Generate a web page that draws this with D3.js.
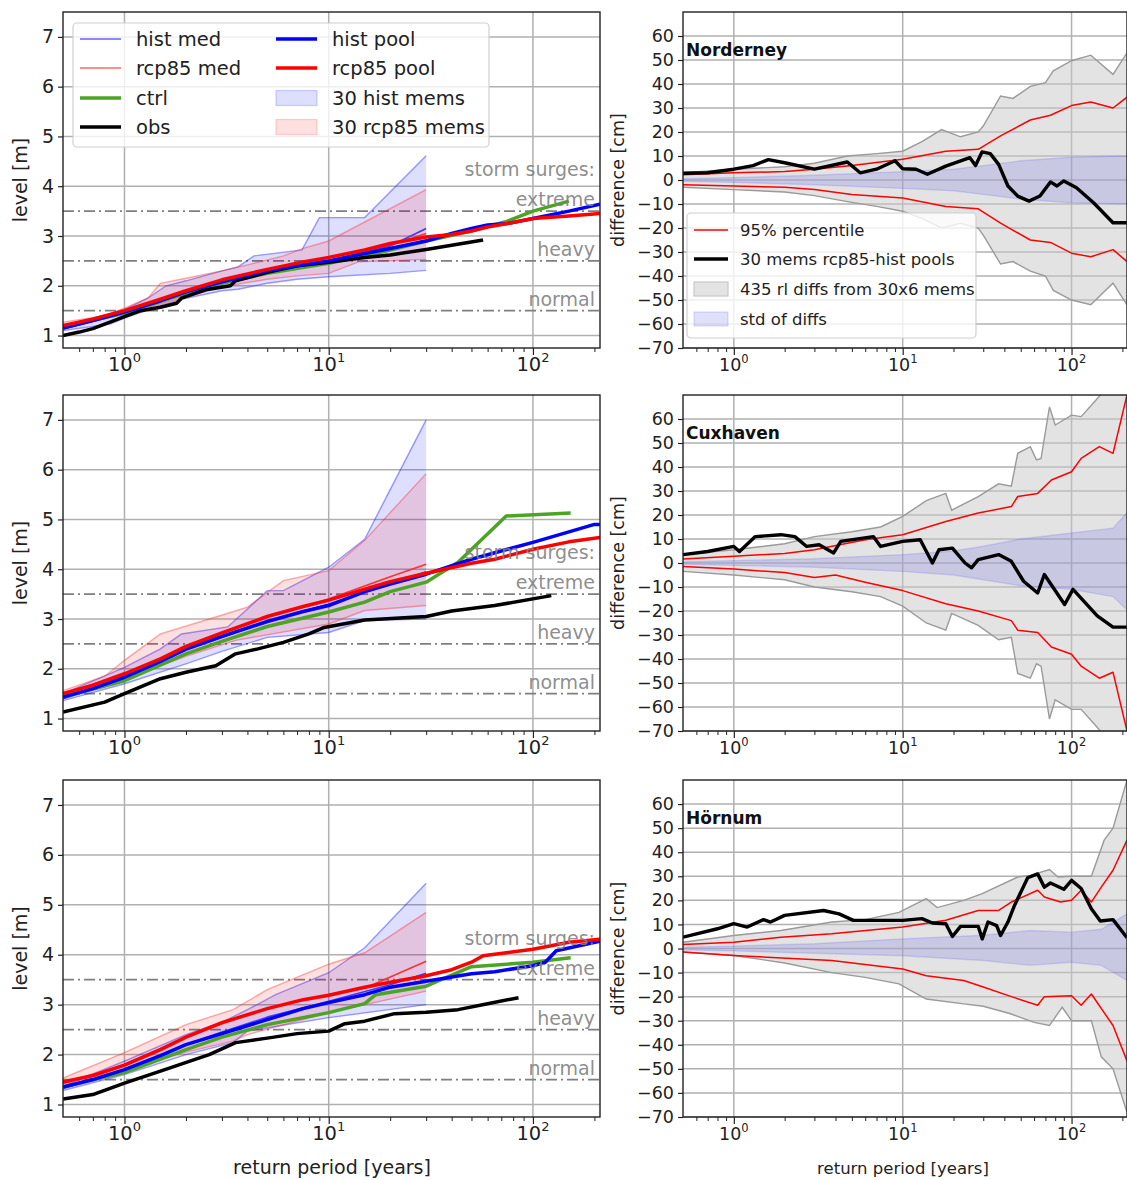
<!DOCTYPE html>
<html>
<head>
<meta charset="utf-8">
<title>Return levels and rcp85-hist differences</title>
<script src="https://cdn.jsdelivr.net/npm/d3@7"></script>
<style>
  body { margin: 0; background: #fff; }
  text { font-family: "DejaVu Sans", sans-serif; }
</style>
</head>
<body>
<script>
// ---------- data ----------
// left panels: [return period (years), level (m)]
var norObs      = [[0.5,1.0],[0.6,1.07],[0.7,1.14],[0.8,1.23],[1,1.38],[1.2,1.5],[1.5,1.57],[1.8,1.65],[1.9,1.75],[2.5,1.92],[3.3,2.0],[3.5,2.1],[5,2.27],[7,2.4],[10,2.47],[15,2.57],[20,2.62],[30,2.73],[45,2.85],[57,2.92]];
var norHistPool = [[0.5,1.15],[0.7,1.3],[1,1.47],[1.5,1.7],[2,1.88],[3,2.08],[5,2.3],[7.5,2.42],[10,2.5],[15,2.65],[20,2.75],[30,2.9],[40,3.05],[50,3.15],[60,3.22],[75,3.25],[100,3.35],[150,3.5],[213,3.64]];
var norRcpPool  = [[0.5,1.2],[0.7,1.33],[1,1.5],[1.5,1.73],[2,1.9],[3,2.12],[5,2.33],[7.5,2.48],[10,2.57],[15,2.72],[20,2.85],[30,2.98],[40,3.03],[50,3.1],[60,3.18],[75,3.25],[100,3.35],[150,3.4],[213,3.45]];
var norCtrl     = [[0.5,1.17],[1,1.45],[2,1.85],[3,2.05],[5,2.25],[10,2.45],[15,2.6],[20,2.72],[30,2.9],[50,3.1],[75,3.3],[100,3.5],[150,3.7]];
var norHistMed  = [[0.5,1.13],[1,1.45],[2,1.87],[3,2.05],[5,2.3],[10,2.5],[20,2.8],[30,3.15]];
var norRcpMed   = [[0.5,1.2],[1,1.5],[2,1.9],[3,2.1],[5,2.33],[10,2.57],[20,2.82],[30,3.05]];
var norHistHi   = [[0.5,1.2],[0.7,1.35],[1,1.52],[1.3,1.75],[1.6,2.0],[2,2.1],[3,2.3],[3.6,2.38],[4.3,2.6],[7.4,2.72],[9,3.37],[15,3.37],[30,4.61]];
var norHistLo   = [[0.5,1.1],[0.85,1.23],[1,1.35],[1.5,1.6],[2,1.75],[3,1.9],[3.6,1.93],[5,2.05],[7,2.13],[10,2.18],[20,2.25],[30,2.31]];
var norRcpHi    = [[0.5,1.27],[0.8,1.4],[1,1.55],[1.3,1.75],[1.5,2.05],[2,2.15],[3,2.3],[4,2.42],[6,2.6],[7.5,2.75],[10,2.9],[30,3.93]];
var norRcpLo    = [[0.5,1.17],[1,1.42],[2,1.78],[3,1.98],[5,2.13],[7,2.2],[10,2.25],[14,2.48],[30,2.53]];

var cuxObs      = [[0.5,1.13],[0.8,1.33],[1,1.5],[1.5,1.8],[2,1.93],[2.8,2.06],[3.5,2.3],[4.5,2.4],[6,2.53],[8,2.7],[9.5,2.83],[15,2.98],[30,3.05],[40,3.16],[65,3.27],[123,3.47]];
var cuxHistPool = [[0.5,1.43],[0.7,1.6],[1,1.83],[1.5,2.15],[2,2.4],[3,2.65],[5,2.95],[7.5,3.15],[10,3.27],[15,3.55],[20,3.7],[30,3.9],[50,4.2],[75,4.4],[100,4.54],[150,4.75],[200,4.9],[213,4.9]];
var cuxRcpPool  = [[0.5,1.5],[0.7,1.67],[1,1.9],[1.5,2.2],[2,2.45],[3,2.72],[5,3.05],[7.5,3.25],[10,3.38],[15,3.6],[20,3.75],[30,3.92],[50,4.12],[65,4.2],[100,4.4],[150,4.55],[213,4.64]];
var cuxCtrl     = [[0.5,1.43],[1,1.76],[2,2.3],[3,2.55],[5,2.85],[10,3.14],[15,3.34],[20,3.55],[30,3.74],[43,4.14],[74,5.07],[153,5.13]];
var cuxHistMed  = [[0.5,1.4],[1,1.8],[2,2.37],[3,2.63],[5,2.95],[10,3.3],[20,3.7],[30,3.95]];
var cuxRcpMed   = [[0.5,1.5],[1,1.88],[2,2.45],[3,2.72],[5,3.05],[10,3.4],[20,3.85],[30,4.1]];
var cuxHistHi   = [[0.5,1.5],[1,2.03],[1.5,2.4],[1.9,2.7],[3.2,2.84],[4,3.2],[5,3.57],[6,3.57],[10,4.04],[15,4.6],[20,5.6],[30,7.0]];
var cuxHistLo   = [[0.5,1.36],[1,1.7],[2,2.1],[3,2.35],[5,2.63],[10,2.73],[15,2.97],[30,3.0]];
var cuxRcpHi    = [[0.5,1.56],[0.8,1.85],[1,2.17],[1.5,2.7],[2.8,3.04],[4,3.24],[6,3.77],[10,3.97],[15,4.58],[30,5.92]];
var cuxRcpLo    = [[0.5,1.4],[1,1.8],[2,2.25],[3.5,2.57],[10,2.9],[15,3.17],[30,3.27]];

var hoeObs      = [[0.5,1.11],[0.7,1.2],[1,1.43],[1.5,1.67],[2.2,1.9],[2.6,2.0],[3.5,2.24],[5,2.33],[7,2.42],[10,2.47],[12,2.62],[15,2.67],[21,2.82],[30,2.85],[43,2.9],[60,3.02],[85,3.14]];
var hoeHistPool = [[0.5,1.35],[0.7,1.5],[1,1.7],[1.5,1.98],[2,2.2],[3,2.42],[5,2.7],[7.5,2.92],[10,3.04],[15,3.2],[20,3.35],[30,3.47],[50,3.62],[65,3.66],[100,3.78],[115,3.85],[130,4.08],[213,4.27]];
var hoeRcpPool  = [[0.5,1.45],[0.7,1.58],[1,1.79],[1.5,2.1],[2,2.35],[3,2.64],[5,2.92],[7.5,3.1],[10,3.19],[15,3.35],[20,3.45],[30,3.58],[40,3.7],[50,3.85],[57,3.98],[100,4.11],[150,4.25],[213,4.31]];
var hoeCtrl     = [[0.5,1.35],[1,1.64],[2,2.1],[3,2.35],[5,2.6],[10,2.84],[15,3.02],[17,3.2],[30,3.37],[50,3.76],[100,3.85],[153,3.94]];
var hoeHistMed  = [[0.5,1.32],[1,1.68],[2,2.2],[3,2.45],[5,2.75],[10,3.07],[20,3.4],[30,3.63]];
var hoeRcpMed   = [[0.5,1.42],[1,1.8],[2,2.35],[3,2.62],[5,2.93],[10,3.2],[15,3.33],[30,3.87]];
var hoeHistHi   = [[0.5,1.37],[1,1.87],[2,2.4],[3,2.65],[4,2.9],[5.5,3.2],[10,3.64],[15,4.14],[30,5.43]];
var hoeHistLo   = [[0.5,1.28],[1,1.6],[2,2.0],[3.4,2.24],[4,2.47],[10,2.74],[30,3.0]];
var hoeRcpHi    = [[0.5,1.53],[1,2.04],[2,2.6],[3.4,2.9],[5,3.3],[10,3.81],[15,4.04],[30,4.85]];
var hoeRcpLo    = [[0.5,1.41],[1,1.7],[2,2.05],[3.4,2.27],[4,2.4],[10,2.84],[30,3.27]];

// right panels: [return period (years), difference (cm)]
var norGrayHi = [[0.5,3],[1,4.5],[2,5.5],[3,7],[4.7,10],[7,11],[10,12],[13,16],[17,21],[22,18],[28,20],[30,22.5],[38,35],[45,34],[57,39],[70,40.6],[78,45.5],[100,49.7],[130,52],[176,44],[213,53]];
var norGrayLo = [[0.5,-3],[1,-4],[2,-5],[3,-6.5],[4.7,-9],[7,-11],[10,-13],[13,-16],[17,-20],[22,-18],[28,-20],[30,-23],[38,-35],[45,-34],[57,-38],[70,-40],[78,-46],[100,-50],[130,-52],[176,-43],[213,-52]];
var norRedHi  = [[0.5,2.2],[1,3],[2,3.5],[3,4.5],[5,6],[10,8.6],[18,12],[28,12.8],[38,18.4],[57,25],[75,27],[100,31],[130,32.5],[176,30],[213,34.5]];
var norRedLo  = [[0.5,-2],[1,-2.5],[2,-3],[3,-4],[5,-6],[10,-7.5],[18,-11],[28,-12],[38,-18],[57,-25],[75,-26],[100,-30.5],[130,-32],[176,-29],[213,-34]];
var norStdHi  = [[0.5,0.5],[1,1],[3,2],[10,3.5],[20,4.5],[30,6],[50,8],[100,9.5],[213,10]];
var norStdLo  = [[0.5,-0.5],[1,-1],[3,-2],[10,-3.5],[20,-4.5],[30,-6],[50,-8],[100,-9.5],[213,-10]];
var norPools  = [[0.5,2.8],[0.7,3],[1,4.5],[1.3,6],[1.6,8.5],[2,7.2],[3,4.5],[4.7,7.5],[5.6,3],[7,4.5],[9,8],[10,4.7],[12,4.5],[14,2.4],[18,5.8],[25,9.3],[27,6],[29.5,11.7],[33,11],[37,6.5],[42,-2.5],[48,-6.7],[56,-8.8],[65,-6.7],[75,-0.8],[82,-2.5],[90,-0.4],[107,-3.2],[135,-9.5],[176,-17.8],[213,-17.8]];

var cuxGrayHi = [[0.5,3.5],[1,5.5],[2,8],[3,11],[5,13],[7.4,15],[10,19.4],[13.8,26],[18,29],[19.5,22],[28,27.7],[37,33],[44,32],[48,45.7],[57,48.5],[62,43],[66,43.6],[74,65],[80,57.5],[100,61.6],[114,61],[140,68],[170,75],[213,80]];
var cuxGrayLo = [[0.5,-3.5],[1,-5],[2,-7],[3,-10],[5,-12],[7.4,-14],[10,-18],[13.8,-25],[18,-28],[19.5,-21],[28,-26],[37,-32],[44,-31],[48,-46],[57,-48],[62,-42],[66,-43],[74,-65],[80,-57],[100,-61],[114,-61],[140,-68],[170,-75],[213,-80]];
var cuxRedHi  = [[0.5,1.7],[1,2.8],[2,4],[3,5.5],[6,9.7],[10,11.8],[18,17.3],[28,20.8],[44,23.5],[48,27.7],[63,29],[76,34.6],[100,38],[114,43.6],[146,48.5],[176,45.7],[213,70]];
var cuxRedLo  = [[0.5,-1.5],[1,-2.5],[2,-4],[3,-6],[4,-5],[6,-8],[10,-11.5],[18,-17],[28,-20],[44,-24],[48,-28],[63,-29],[76,-35],[100,-38],[114,-43],[146,-48],[176,-45.5],[213,-70]];
var cuxStdHi  = [[0.5,0.5],[1,1],[3,1.8],[10,3.5],[20,5],[30,7],[50,10],[100,12.5],[176,14.5],[213,21]];
var cuxStdLo  = [[0.5,-0.5],[1,-1],[3,-1.8],[10,-3.5],[20,-5],[30,-7],[50,-9.5],[100,-11],[176,-14],[213,-19.5]];
var cuxPools  = [[0.5,3.5],[0.7,4.8],[1,6.9],[1.08,4.8],[1.34,11],[1.9,11.8],[2.3,11],[2.7,6.9],[3.2,7.6],[3.9,4.2],[4.3,9],[6.7,11],[7.4,6.9],[10,9],[12.7,9.7],[15,0],[16.4,5.5],[19.7,6.2],[23.4,0],[25.6,-2],[28,1.4],[37,3.5],[44,0.7],[52,-7.6],[63,-12.5],[69,-4.8],[91,-17.3],[102,-11],[142,-22],[176,-26.7],[213,-26.7]];

var hoeGrayHi = [[0.5,2.6],[1,5.4],[1.9,7.5],[3.8,11],[6,12],[9.5,15],[13.8,20.7],[16,17],[23,20],[29.6,22.8],[48,29.7],[57,30.4],[74,32.8],[83,29.7],[100,30],[131,30],[156,45],[176,50],[213,70]];
var hoeGrayLo = [[0.5,-1.5],[1,-2.9],[2,-6],[3.8,-10],[6,-12],[9.5,-14.7],[13.8,-21],[23,-23],[30,-24],[43,-27],[60,-30.7],[74,-32],[88,-24.4],[100,-30],[131,-30],[150,-45],[176,-50],[213,-68]];
var hoeRedHi  = [[0.5,1.7],[1,2.6],[1.9,4.7],[3.8,6.1],[10,8.9],[18,11.7],[28,15.8],[37,15.8],[44,19.3],[63,24.2],[69,21.4],[86,19.3],[100,20],[114,24.2],[131,19.3],[150,25.5],[176,32.5],[213,45]];
var hoeRedLo  = [[0.5,-1.5],[1,-2.9],[3.8,-5],[10,-8.5],[13.8,-11.3],[23,-13.3],[30,-16],[44,-20],[63,-23.6],[69,-20],[100,-19.6],[114,-23.6],[131,-18.9],[176,-32],[213,-46.7]];
var hoeStdHi  = [[0.5,0.5],[1,1],[3,2],[10,4],[30,5.5],[57,7.5],[100,6.8],[150,8],[213,14.4]];
var hoeStdLo  = [[0.5,-0.5],[1,-1],[3,-2],[10,-3],[30,-5],[57,-7],[100,-5.7],[150,-7],[213,-13.3]];
var hoePools  = [[0.5,4.7],[0.8,8.2],[1,10.3],[1.2,8.9],[1.5,12],[1.65,11],[2,13.75],[3.4,15.8],[4.2,14.4],[5.1,11.7],[10,11.7],[13,12.4],[15,10.6],[18,10.3],[19.7,5],[22,9.2],[28,9.2],[29.6,4],[32,11],[36,9.5],[38,5.4],[42,11],[46,18],[55,29.4],[63,31],[69,25.5],[75,27.2],[90,24.6],[100,28.3],[114,24.9],[131,16.5],[148,11.4],[176,12],[213,4.5]];

var stations    = ["Norderney", "Cuxhaven", "Hörnum"];
var levelTicks  = [1, 2, 3, 4, 5, 6, 7];
var diffTicks   = [-70, -60, -50, -40, -30, -20, -10, 0, 10, 20, 30, 40, 50, 60];
var decades     = [1, 10, 100];
var surgeLevels = [1.5, 2.5, 3.5];
var surgeNames  = ["normal", "heavy", "extreme"];

var leftData = [
  {obs: norObs, hp: norHistPool, rp: norRcpPool, ctrl: norCtrl, hm: norHistMed, rm: norRcpMed, hHi: norHistHi, hLo: norHistLo, rHi: norRcpHi, rLo: norRcpLo},
  {obs: cuxObs, hp: cuxHistPool, rp: cuxRcpPool, ctrl: cuxCtrl, hm: cuxHistMed, rm: cuxRcpMed, hHi: cuxHistHi, hLo: cuxHistLo, rHi: cuxRcpHi, rLo: cuxRcpLo},
  {obs: hoeObs, hp: hoeHistPool, rp: hoeRcpPool, ctrl: hoeCtrl, hm: hoeHistMed, rm: hoeRcpMed, hHi: hoeHistHi, hLo: hoeHistLo, rHi: hoeRcpHi, rLo: hoeRcpLo}
];
var rightData = [
  {gHi: norGrayHi, gLo: norGrayLo, rHi: norRedHi, rLo: norRedLo, sHi: norStdHi, sLo: norStdLo, pools: norPools},
  {gHi: cuxGrayHi, gLo: cuxGrayLo, rHi: cuxRedHi, rLo: cuxRedLo, sHi: cuxStdHi, sLo: cuxStdLo, pools: cuxPools},
  {gHi: hoeGrayHi, gLo: hoeGrayLo, rHi: hoeRedHi, rLo: hoeRedLo, sHi: hoeStdHi, sLo: hoeStdLo, pools: hoePools}
];

// ---------- layout ----------
var rowTop = [12, 395, 780], rowBot = [348, 731, 1117];
var minorTicks = [0.6,0.7,0.8,0.9,2,3,4,5,6,7,8,9,20,30,40,50,60,70,80,90,200];

var svg = d3.select("body").append("svg")
    .attr("width", 1127)
    .attr("height", 1180);

function drawBand(g, x, y, hi, lo, fill, edge) {
  var pts = hi.concat(lo.slice().reverse());
  var line = d3.line().x(function(d) { return x(d[0]); }).y(function(d) { return y(d[1]); });
  g.append("path").attr("d", line(pts) + "Z").attr("fill", fill).attr("stroke", "none");
  [hi, lo].forEach(function(s) {
    g.append("path").attr("d", line(s)).attr("fill", "none")
      .attr("stroke", edge).attr("stroke-width", 1.4);
  });
}

function drawLine(g, x, y, s, color, w) {
  var line = d3.line().x(function(d) { return x(d[0]); }).y(function(d) { return y(d[1]); });
  g.append("path").attr("d", line(s)).attr("fill", "none")
    .attr("stroke", color).attr("stroke-width", w)
    .attr("stroke-linejoin", "round");
}

function grid(g, x, y, yTicks, x0, x1, top, bot) {
  g.selectAll(null).data(yTicks).enter().append("line")
    .attr("x1", x0).attr("x2", x1)
    .attr("y1", function(d) { return y(d); }).attr("y2", function(d) { return y(d); })
    .attr("stroke", "#b0b0b0").attr("stroke-width", 1.5);
  g.selectAll(null).data(decades).enter().append("line")
    .attr("x1", function(d) { return x(d); }).attr("x2", function(d) { return x(d); })
    .attr("y1", top).attr("y2", bot)
    .attr("stroke", "#b0b0b0").attr("stroke-width", 1.5);
}

function frameAndTicks(g, x, y, yTicks, x0, x1, top, bot, fs, fsX, fsSup) {
  g.append("rect").attr("x", x0).attr("y", top)
    .attr("width", x1 - x0).attr("height", bot - top)
    .attr("fill", "none").attr("stroke", "#222").attr("stroke-width", 1.4);

  var ya = g.append("g").attr("transform", "translate(" + x0 + ",0)")
    .call(d3.axisLeft(y).tickValues(yTicks).tickSize(5).tickPadding(4).tickFormat(d3.format("d")));
  ya.select(".domain").remove();
  ya.selectAll("line").attr("stroke", "#222").attr("stroke-width", 1.2);
  ya.selectAll("text").attr("font-size", fs).attr("fill", "#222")
    .attr("font-family", "DejaVu Sans, sans-serif");

  var xa = g.append("g").attr("transform", "translate(0," + bot + ")")
    .call(d3.axisBottom(x).tickValues(decades).tickSize(7).tickFormat(""));
  xa.select(".domain").remove();
  xa.selectAll("line").attr("stroke", "#222").attr("stroke-width", 1.2);
  var xm = g.append("g").attr("transform", "translate(0," + bot + ")")
    .call(d3.axisBottom(x).tickValues(minorTicks).tickSize(4).tickFormat(""));
  xm.select(".domain").remove();
  xm.selectAll("line").attr("stroke", "#222").attr("stroke-width", 1);

  decades.forEach(function(d, i) {
    var t = g.append("text").attr("x", x(d)).attr("y", bot + 23)
      .attr("text-anchor", "middle").attr("font-size", fsX).attr("fill", "#222");
    t.append("tspan").text("10");
    t.append("tspan").attr("font-size", fsSup).attr("dy", -fsX * 0.45).text(String(i));
  });
}

function leftPanel(row) {
  var d = leftData[row];
  var top = rowTop[row], bot = rowBot[row], x0 = 63, x1 = 600;
  var x = d3.scaleLog().domain([0.5, 213]).range([x0, x1]);
  var y = d3.scaleLinear().domain([0.75, 7.5]).range([bot, top]);
  var g = svg.append("g");

  svg.append("clipPath").attr("id", "clipL" + row).append("rect")
    .attr("x", x0).attr("y", top).attr("width", x1 - x0).attr("height", bot - top);

  grid(g, x, y, levelTicks, x0, x1, top, bot);

  // storm surge thresholds
  g.selectAll(null).data(surgeLevels).enter().append("line")
    .attr("x1", x0).attr("x2", x1)
    .attr("y1", function(v) { return y(v); }).attr("y2", function(v) { return y(v); })
    .attr("stroke", "#7f7f7f").attr("stroke-width", 1.8)
    .attr("stroke-dasharray", "11,4,2,4");

  var p = g.append("g").attr("clip-path", "url(#clipL" + row + ")");
  drawBand(p, x, y, d.hHi, d.hLo, "rgba(0,0,255,0.13)", "rgba(40,40,255,0.45)");
  drawBand(p, x, y, d.rHi, d.rLo, "rgba(255,0,0,0.12)", "rgba(255,40,40,0.4)");
  drawLine(p, x, y, d.hm, "#3a3aff", 1.6);
  drawLine(p, x, y, d.rm, "#ff3030", 1.6);
  drawLine(p, x, y, d.ctrl, "#4ca424", 3.5);
  drawLine(p, x, y, d.obs, "#000", 3.5);
  drawLine(p, x, y, d.hp, "#0000ff", 3.5);
  drawLine(p, x, y, d.rp, "#ff0000", 3.5);

  // labels of thresholds
  var lab = g.append("g").attr("fill", "#808080").attr("font-size", 19)
    .attr("text-anchor", "end").attr("fill-opacity", 0.9);
  surgeLevels.forEach(function(v, i) {
    lab.append("text").attr("x", 595).attr("y", y(v + 0.1)).text(surgeNames[i]);
  });
  lab.append("text").attr("x", 595).attr("y", y(4.2)).text("storm surges:");

  frameAndTicks(g, x, y, levelTicks, x0, x1, top, bot, 19, 19.5, 13);

  g.append("text").attr("transform", "translate(27," + ((top + bot) / 2) + ") rotate(-90)")
    .attr("text-anchor", "middle").attr("font-size", 19).attr("fill", "#222")
    .text("level [m]");
}

function rightPanel(row) {
  var d = rightData[row];
  var top = rowTop[row], bot = rowBot[row], x0 = 683, x1 = 1127;
  var x = d3.scaleLog().domain([0.5, 213]).range([x0, x1]);
  var y = d3.scaleLinear().domain([-70, 70]).range([bot, top]);
  var g = svg.append("g");

  svg.append("clipPath").attr("id", "clipR" + row).append("rect")
    .attr("x", x0).attr("y", top).attr("width", x1 - x0).attr("height", bot - top);

  grid(g, x, y, diffTicks, x0, x1, top, bot);

  var p = g.append("g").attr("clip-path", "url(#clipR" + row + ")");
  drawBand(p, x, y, d.gHi, d.gLo, "rgba(200,200,200,0.5)", "#9a9a9a");
  drawBand(p, x, y, d.sHi, d.sLo, "rgba(60,60,230,0.16)", "rgba(90,90,255,0.2)");
  drawLine(p, x, y, d.rHi, "#ff0000", 1.5);
  drawLine(p, x, y, d.rLo, "#ff0000", 1.5);
  drawLine(p, x, y, d.pools, "#000", 3.4);

  g.append("text").attr("x", 686).attr("y", top + 44)
    .attr("font-size", 17).attr("font-weight", "bold").attr("fill", "#111")
    .text(stations[row]);

  frameAndTicks(g, x, y, diffTicks, x0, x1, top, bot, 17.5, 17.5, 11.5);

  g.append("text").attr("transform", "translate(624," + ((top + bot) / 2) + ") rotate(-90)")
    .attr("text-anchor", "middle").attr("font-size", 17.5).attr("fill", "#222")
    .text("difference [cm]");
}

[0, 1, 2].forEach(function(r) { leftPanel(r); rightPanel(r); });

// x labels
svg.append("text").attr("x", 332).attr("y", 1174).attr("text-anchor", "middle")
  .attr("font-size", 19).attr("fill", "#222").text("return period [years]");
svg.append("text").attr("x", 903).attr("y", 1174).attr("text-anchor", "middle")
  .attr("font-size", 16.5).attr("fill", "#222").text("return period [years]");

// ---------- legends ----------
var leftLegend = [
  {label: "hist med",      kind: "line", color: "#6060ff", w: 1.5, col: 0},
  {label: "rcp85 med",     kind: "line", color: "#ff6a6a", w: 1.5, col: 0},
  {label: "ctrl",          kind: "line", color: "#4ca424", w: 3.5, col: 0},
  {label: "obs",           kind: "line", color: "#000",    w: 3.5, col: 0},
  {label: "hist pool",     kind: "line", color: "#0000ff", w: 3.5, col: 1},
  {label: "rcp85 pool",    kind: "line", color: "#ff0000", w: 3.5, col: 1},
  {label: "30 hist mems",  kind: "patch", color: "rgba(0,0,255,0.13)", edge: "rgba(40,40,255,0.2)", col: 1},
  {label: "30 rcp85 mems", kind: "patch", color: "rgba(255,0,0,0.12)", edge: "rgba(255,40,40,0.2)", col: 1}
];
var rightLegend = [
  {label: "95% percentile",              kind: "line", color: "#ff0000", w: 1.5},
  {label: "30 mems rcp85-hist pools",    kind: "line", color: "#000", w: 3.5},
  {label: "435 rl diffs from 30x6 mems", kind: "patch", color: "rgba(200,200,200,0.5)", edge: "#c8c8c8"},
  {label: "std of diffs",                kind: "patch", color: "rgba(60,60,230,0.16)", edge: "rgba(90,90,255,0.2)"}
];

function legend(items, box, colX, rowsY, lineW, textDx, fs, patchH) {
  var g = svg.append("g");
  g.append("rect").attr("x", box[0]).attr("y", box[1])
    .attr("width", box[2]).attr("height", box[3]).attr("rx", 4)
    .attr("fill", "#fff").attr("fill-opacity", 0.8)
    .attr("stroke", "#d0d0d0").attr("stroke-width", 1.2);
  var perCol = rowsY.length;
  items.forEach(function(it, i) {
    var cx = colX[it.col || 0], cy = rowsY[i % perCol];
    if (it.kind === "line") {
      g.append("line").attr("x1", cx).attr("x2", cx + lineW)
        .attr("y1", cy).attr("y2", cy)
        .attr("stroke", it.color).attr("stroke-width", it.w);
    } else {
      g.append("rect").attr("x", cx).attr("y", cy - patchH / 2)
        .attr("width", lineW).attr("height", patchH)
        .attr("fill", it.color).attr("stroke", it.edge).attr("stroke-width", 1.2);
    }
    g.append("text").attr("x", cx + lineW + textDx).attr("y", cy + fs * 0.36)
      .attr("font-size", fs).attr("fill", "#222").text(it.label);
  });
}

legend(leftLegend, [73, 23, 416, 124], [80, 276], [39, 68, 98, 127], 41, 15, 19.5, 15);
legend(rightLegend, [687, 213, 289, 125], [694], [230, 259, 289, 319], 34, 12, 16.5, 14);
</script>
</body>
</html>
